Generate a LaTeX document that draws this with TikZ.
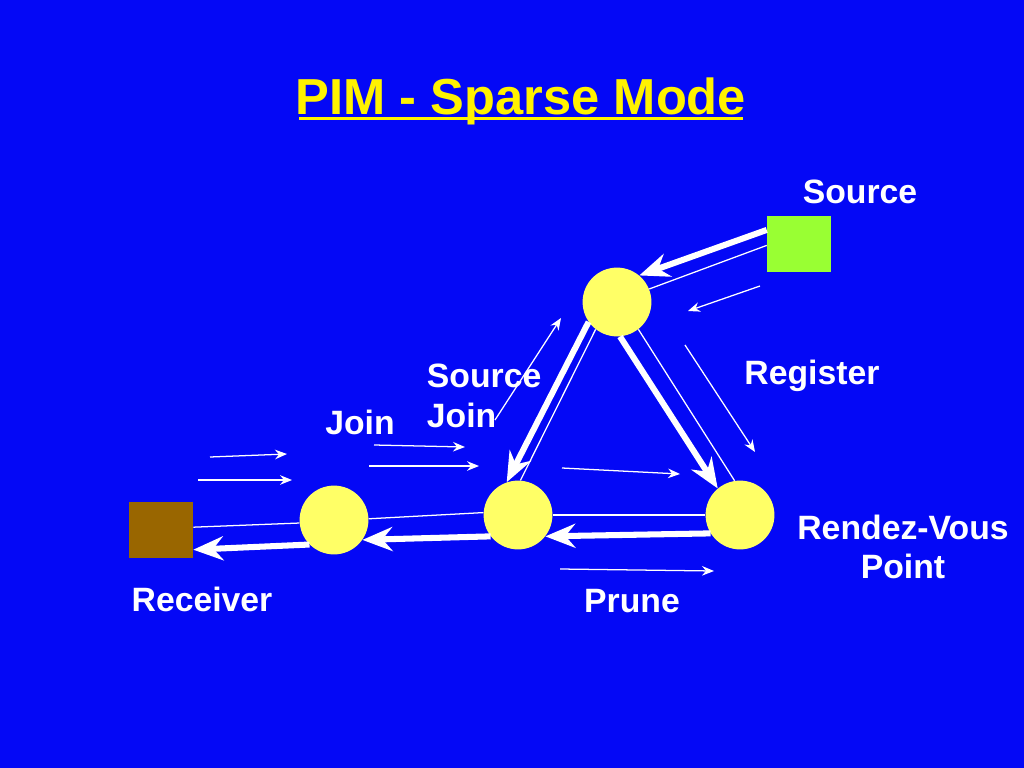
\documentclass[tikz,border=0pt]{standalone}
\usepackage{fontspec}
\setmainfont{Liberation Sans}
\usetikzlibrary{arrows.meta}
\definecolor{bgblue}{RGB}{4,8,246}
\definecolor{router}{RGB}{255,255,102}
\definecolor{srcgreen}{RGB}{153,255,51}
\definecolor{rcvbrown}{RGB}{153,102,0}

\begin{document}
\begin{tikzpicture}[x=0.025cm, y=-0.025cm,
    router/.style={circle, fill=router, minimum size=1.72cm, inner sep=0pt},
    host/.style={fill=#1, minimum width=1.6cm, minimum height=1.4cm, inner sep=0pt},
    label/.style={text=white, font=\bfseries\fontsize{24}{28}\selectfont},
    thick flow/.style={white, line width=4.3pt, -{Stealth[length=7.5mm,width=6mm,inset=2.5mm]}},
    thin flow/.style={white, line width=0.9pt, -{Stealth[length=3mm,width=2.4mm,inset=1mm]}},
    thin line/.style={white, line width=0.9pt}]
    % Background
    \fill[bgblue] (0,0) rectangle (1024,768);
    \node[text=yellow, font=\bfseries\fontsize{36}{40}\selectfont] (title) at (521,101) {PIM - Sparse Mode};
    \draw[yellow, line width=2pt] ([yshift=-3pt]title.base west) ++(6pt,0) -- ([yshift=-3pt,xshift=-6pt]title.base east);
    % Routers and hosts
    \node[router] (top) at (617,302) {};
    \node[router] (mid) at (518,515) {};
    \node[router] (rp) at (740,515) {};
    \node[router] (near) at (334,520) {};
    \node[host=srcgreen] (src) at (799,244) {};
    \node[host=rcvbrown] (rcv) at (161,530) {};
    % Labels
    \node[label] (srclbl) at (860,192) {Source};
    \node[label] (reglbl) at (812,376) {Register};
    \node[label, align=left, anchor=west] (sjlbl) at (422,396) {Source\\Join};
    \node[label] (joinlbl) at (360,422) {Join};
    \node[label, align=center] (rplbl) at (903,547) {Rendez-Vous\\Point};
    \node[label] (rcvlbl) at (202,599) {Receiver};
    \node[label] (prunelbl) at (632,601) {Prune};
    % Data paths
    \draw[thick flow] ([yshift=10pt]src.west) -- (top.50);
    \draw[thin line] ([yshift=-1pt]src.west) -- (top.22);
    \draw[thick flow] (top.215) -- (mid.109);
    \draw[thin line] (top.232) -- (mid.86);
    \draw[thick flow] (top.275) -- (rp.130);
    \draw[thin line] (top.308) -- (rp.99);
    \draw[thick flow] (rp.212) -- (mid.322);
    \draw[thin line] (mid.0) -- (rp.180);
    \draw[thick flow] (mid.218) -- (near.325);
    \draw[thin line] (near.2) -- (mid.176);
    \draw[thick flow] (near.225) -- ([yshift=-14pt]rcv.east);
    \draw[thin line] ([yshift=2pt]rcv.east) -- (near.185);
    % Control messages
    \coordinate (r1) at (760,286); \coordinate (r2) at (688,311);
    \coordinate (j1) at (495,420); \coordinate (j2) at (561,318);
    \coordinate (g1) at (685,345); \coordinate (g2) at (755,452);
    \coordinate (m1) at (562,468); \coordinate (m2) at (680,474);
    \coordinate (p1) at (560,569); \coordinate (p2) at (714,571);
    \coordinate (a1) at (210,457); \coordinate (a2) at (287,454);
    \coordinate (b1) at (198,480); \coordinate (b2) at (292,480);
    \coordinate (c1) at (374,445); \coordinate (c2) at (465,447);
    \coordinate (d1) at (369,466); \coordinate (d2) at (479,466);
    \foreach \s/\e in {r1/r2, j1/j2, g1/g2, m1/m2, p1/p2, a1/a2, b1/b2, c1/c2, d1/d2}
        \draw[thin flow] (\s) -- (\e);
\end{tikzpicture}
\end{document}
